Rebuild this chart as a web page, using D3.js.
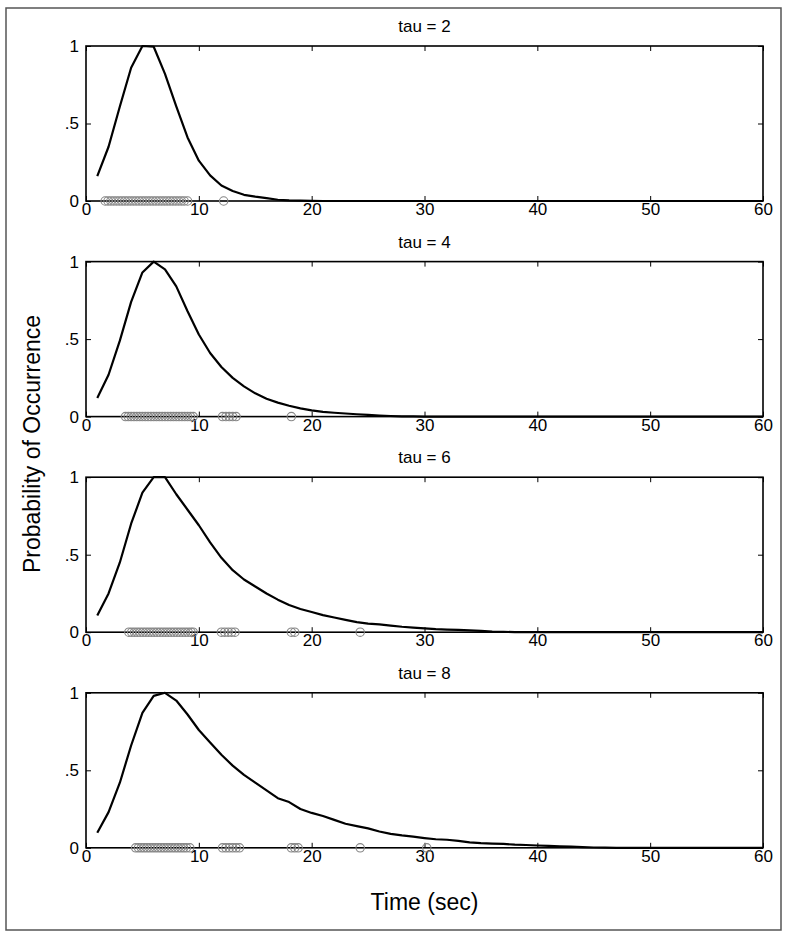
<!DOCTYPE html>
<html>
<head>
<meta charset="utf-8">
<script src="https://cdn.jsdelivr.net/npm/d3@7"></script>
<style>
  html, body { margin: 0; padding: 0; background: #fff; }
  svg { display: block; font-family: "Liberation Sans", Arial, Helvetica, sans-serif; }
</style>
</head>
<body>
<svg id="chart" width="787" height="934"></svg>
<script>
// ---- data ----
const titles = ["tau = 2", "tau = 4", "tau = 6", "tau = 8"];
const timePoints = [1,2,3,4,5,6,7,8,9,10,11,12,13,14,15,16,17,18,19,20,21,22,23,24,25,26,27,28,29,30,
  31,32,33,34,35,36,37,38,39,40,41,42,43,44,45,46,47,48,49,50,51,52,53,54,55,56,57,58,59,60];

const probTau2 = [0.16,0.35,0.61,0.86,1.0,0.995,0.82,0.61,0.41,0.26,0.165,0.10,0.065,0.04,0.028,0.018,0.008,0.004,0.002,0.001,
  0,0,0,0,0,0,0,0,0,0,0,0,0,0,0,0,0,0,0,0,0,0,0,0,0,0,0,0,0,0,0,0,0,0,0,0,0,0,0,0];
const probTau4 = [0.12,0.27,0.49,0.74,0.93,1.0,0.95,0.84,0.68,0.53,0.41,0.32,0.25,0.195,0.15,0.115,0.09,0.07,0.053,0.04,
  0.031,0.025,0.02,0.015,0.011,0.007,0.004,0.002,0.001,0,0,0,0,0,0,0,0,0,0,0,0,0,0,0,0,0,0,0,0,0,0,0,0,0,0,0,0,0,0,0];
const probTau6 = [0.108,0.25,0.45,0.70,0.90,1.0,1.0,0.89,0.79,0.69,0.58,0.48,0.40,0.34,0.295,0.25,0.21,0.175,0.15,0.13,
  0.11,0.095,0.08,0.065,0.055,0.05,0.042,0.035,0.03,0.025,0.02,0.017,0.015,0.012,0.008,0.004,0.002,0.001,0,0,
  0,0,0,0,0,0,0,0,0,0,0,0,0,0,0,0,0,0,0,0];
const probTau8 = [0.097,0.23,0.42,0.66,0.87,0.98,1.0,0.95,0.86,0.76,0.68,0.60,0.53,0.47,0.42,0.37,0.32,0.295,0.25,0.225,
  0.205,0.18,0.155,0.14,0.125,0.105,0.09,0.08,0.072,0.063,0.055,0.052,0.045,0.035,0.03,0.027,0.025,0.02,0.018,0.015,
  0.012,0.01,0.007,0.004,0.002,0.001,0,0,0,0,0,0,0,0,0,0,0,0,0,0];

const eventsTau2 = [1.7,1.95,2.2,2.45,2.7,2.95,3.2,3.45,3.7,3.95,4.2,4.45,4.7,4.95,5.2,5.45,5.7,5.95,6.2,6.45,
  6.7,6.95,7.2,7.45,7.7,7.95,8.2,8.45,8.7,9.0,12.2];
const eventsTau4 = [3.5,3.75,4.0,4.25,4.5,4.75,5.0,5.25,5.5,5.75,6.0,6.25,6.5,6.75,7.0,7.25,7.5,7.75,8.0,8.25,
  8.5,8.75,9.0,9.25,9.5,12.1,12.4,12.7,13.0,13.3,18.2];
const eventsTau6 = [3.8,4.05,4.3,4.55,4.8,5.05,5.3,5.55,5.8,6.05,6.3,6.55,6.8,7.05,7.3,7.55,7.8,8.05,8.3,8.55,
  8.8,9.05,9.3,9.5,12.0,12.3,12.6,12.9,13.2,18.2,18.5,24.3];
const eventsTau8 = [4.4,4.65,4.9,5.15,5.4,5.65,5.9,6.15,6.4,6.65,6.9,7.15,7.4,7.65,7.9,8.15,8.4,8.65,8.9,9.2,
  12.1,12.4,12.7,13.0,13.3,13.6,18.2,18.5,18.8,24.3,30.2];

const xTicks = [0,10,20,30,40,50,60];
const yTicks = [0,0.5,1];
const yTickLabels = ["0",".5","1"];
const xLabel = "Time (sec)";
const yLabel = "Probability of Occurrence";

const probSeries = [probTau2, probTau4, probTau6, probTau8];
const eventSeries = [eventsTau2, eventsTau4, eventsTau6, eventsTau8];

// ---- layout ----
const svg = d3.select("#chart");
const plotLeft = 86, plotRight = 763;
const panelTop0 = 46, panelStep = 215.6, panelH = 155;

svg.append("rect").attr("x", 6).attr("y", 8).attr("width", 775).attr("height", 922)
  .attr("fill", "none").attr("stroke", "#555").attr("stroke-width", 1.5);

const x = d3.scaleLinear().domain([0, 60]).range([plotLeft, plotRight]);

titles.forEach((title, i) => {
  const top = panelTop0 + i * panelStep;
  const bottom = top + panelH;
  const y = d3.scaleLinear().domain([0, 1]).range([bottom, top]);
  const g = svg.append("g");

  const axB = d3.axisBottom(x).tickValues(xTicks).tickFormat(d3.format("d")).tickSize(-5).tickPadding(2);
  const axT = d3.axisTop(x).tickValues(xTicks).tickFormat("").tickSize(-5);
  const axL = d3.axisLeft(y).tickValues(yTicks).tickFormat((d, k) => yTickLabels[k]).tickSize(-5).tickPadding(7);
  const axR = d3.axisRight(y).tickValues(yTicks).tickFormat("").tickSize(-5);

  const styleAxis = sel => {
    sel.select(".domain").remove();
    sel.selectAll(".tick line").attr("stroke", "#000").attr("stroke-width", 1);
    sel.selectAll(".tick text").attr("fill", "#000").style("font-size", "17px")
      .style("font-family", "'Liberation Sans', Arial, sans-serif");
  };
  g.append("g").attr("transform", `translate(0,${bottom})`).call(axB).call(styleAxis);
  g.append("g").attr("transform", `translate(0,${top})`).call(axT).call(styleAxis);
  g.append("g").attr("transform", `translate(${plotLeft},0)`).call(axL).call(styleAxis);
  g.append("g").attr("transform", `translate(${plotRight},0)`).call(axR).call(styleAxis);

  g.append("rect").attr("x", plotLeft).attr("y", top).attr("width", plotRight - plotLeft).attr("height", panelH)
    .attr("fill", "none").attr("stroke", "#000").attr("stroke-width", 1.6);

  const line = d3.line().x((d, k) => x(timePoints[k])).y(d => y(d));
  g.append("path").datum(probSeries[i]).attr("d", line)
    .attr("fill", "none").attr("stroke", "#000").attr("stroke-width", 2.2).attr("stroke-linejoin", "round");

  g.selectAll("circle.ev").data(eventSeries[i]).join("circle").attr("class", "ev")
    .attr("cx", d => x(d)).attr("cy", y(0)).attr("r", 4.2)
    .attr("fill", "none").attr("stroke", "#858585").attr("stroke-width", 1.1);

  g.append("text").attr("x", (plotLeft + plotRight) / 2).attr("y", top - 14)
    .attr("text-anchor", "middle").style("font-size", "17px").attr("fill", "#000").text(title);
});

svg.append("text").attr("x", (plotLeft + plotRight) / 2).attr("y", 910)
  .attr("text-anchor", "middle").style("font-size", "23px").attr("fill", "#000").text(xLabel);

svg.append("text").attr("transform", "translate(40,444) rotate(-90)")
  .attr("text-anchor", "middle").style("font-size", "23px").attr("fill", "#000").text(yLabel);
</script>
</body>
</html>
